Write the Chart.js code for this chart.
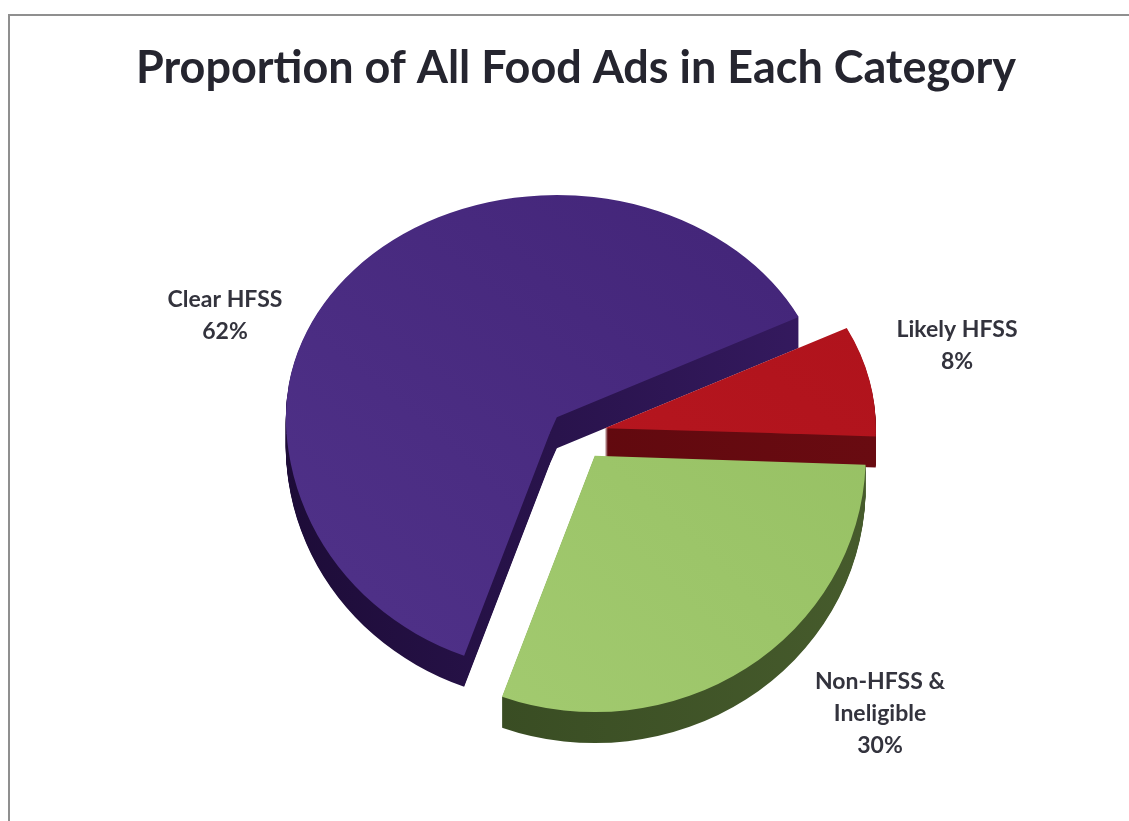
<!DOCTYPE html>
<html>
<head>
<meta charset="utf-8">
<title>Proportion of All Food Ads in Each Category</title>
<script src="https://cdn.jsdelivr.net/npm/chart.js@4.4.1/dist/chart.umd.min.js"></script>
<style>
    html, body { margin: 0; padding: 0; background: #fff; }
    #frame {
        position: absolute; left: 8px; top: 14px; width: 1121px; height: 807px;
        box-sizing: border-box; border-top: 2px solid #8f8f8f; border-left: 2px solid #8f8f8f;
    }
    #pie { position: absolute; left: 0; top: 0; }
</style>
</head>
<body>
<div id="frame"></div>
<canvas id="pie" width="1129" height="821"></canvas>
<script>
const chartTitle = 'Proportion of All Food Ads in Each Category';
const categories = [['Clear HFSS'], ['Likely HFSS'], ['Non-HFSS &', 'Ineligible']];
const shares = [62, 8, 30];

// [darker, lighter] shade pairs for the top faces and the extruded sides
const topColors = [['#44267a', '#4e3087'], ['#b0131c', '#ba1821'], ['#96c063', '#a2ca6f']];
const sideColors = [['#1d0c38', '#351a60'], ['#5a070c', '#690b11'], ['#33461f', '#465b2c']];

// Fake 3D: every slice is squashed vertically (less at the front than at the back),
// pushed out along its mid angle, and stacked `depth` times for the side walls.
const pie3d = {
    id: 'pie3d',
    beforeDatasetDraw(chart, args, opts) {
        const ctx = chart.ctx;
        const arcs = args.meta.data;
        const w = chart.width;
        const h = chart.height;

        const drawSlice = (arc, i, dz, fill) => {
            const mid = (arc.startAngle + arc.endAngle) / 2;
            const dx = Math.cos(mid) * opts.explode[i];
            const dy = Math.sin(mid) * opts.explode[i];
            const cy = arc.y;
            const halves = [[opts.tiltBack, -h, cy + 1], [opts.tiltFront, cy, h]];
            halves.forEach(([k, y0, y1]) => {
                ctx.save();
                ctx.translate(0, cy + dz);
                ctx.scale(1, k);
                ctx.translate(0, -cy);
                ctx.beginPath();
                ctx.rect(0, y0, w, y1 - y0);
                ctx.clip();
                ctx.translate(dx, dy);
                const saved = arc.options.backgroundColor;
                arc.options.backgroundColor = fill(arc);
                arc.draw(ctx);
                arc.options.backgroundColor = saved;
                ctx.restore();
            });
        };

        const topFill = (i) => (arc) => {
            const r = arc.outerRadius * 0.7;
            const g = ctx.createLinearGradient(arc.x + r, arc.y - r, arc.x - r, arc.y + r);
            g.addColorStop(0, topColors[i][0]);
            g.addColorStop(1, topColors[i][1]);
            return g;
        };
        const sideFill = (i) => (arc) => {
            const r = arc.outerRadius;
            const g = ctx.createLinearGradient(arc.x - r, 0, arc.x + r, 0);
            g.addColorStop(0, sideColors[i][0]);
            g.addColorStop(1, sideColors[i][1]);
            return g;
        };

        opts.order.forEach((i) => {
            const arc = arcs[i];
            for (let dz = opts.depth; dz > 0; dz--) {
                drawSlice(arc, i, dz, sideFill(i));
            }
            drawSlice(arc, i, 0, topFill(i));
        });
        return false;
    },
};

const captions = {
    id: 'captions',
    afterDraw(chart, args, opts) {
        const ctx = chart.ctx;
        const labels = chart.data.labels;
        const values = chart.data.datasets[0].data;
        const total = values.reduce((a, b) => a + b, 0);

        ctx.save();
        ctx.fillStyle = opts.color;
        ctx.textAlign = 'center';
        ctx.textBaseline = 'alphabetic';
        ctx.font = `bold ${opts.titleSize}px Lato`;
        ctx.fillText(chartTitle, opts.titleX, opts.titleY, opts.titleWidth);

        ctx.fillStyle = opts.labelColor;
        ctx.font = `bold ${opts.labelSize}px Lato`;
        labels.forEach((lines, i) => {
            const [x, y] = opts.anchors[i];
            const pct = Math.round(values[i] / total * 100) + '%';
            [...lines, pct].forEach((t, j) => ctx.fillText(t, x, y + j * opts.lineGap));
        });
        ctx.restore();
    },
};

new Chart(document.getElementById('pie'), {
    type: 'pie',
    data: {
        labels: categories,
        datasets: [
            {
                data: shares,
                backgroundColor: topColors.map((c) => c[1]),
                borderWidth: 0,
            },
        ],
    },
    options: {
        responsive: false,
        animation: false,
        events: [],
        rotation: 200,
        radius: 271,
        layout: { padding: { left: 60, right: 32, top: 100, bottom: 55 } },
        plugins: {
            legend: { display: false },
            tooltip: { enabled: false },
            title: { display: false },
            pie3d: {
                explode: [29, 27, 29],
                depth: 31,
                tiltBack: 0.82,
                tiltFront: 0.946,
                order: [0, 1, 2],
            },
            captions: {
                color: '#25252f',
                labelColor: '#33333d',
                titleSize: 45,
                titleX: 576,
                titleY: 83,
                titleWidth: 880,
                labelSize: 23,
                lineGap: 32,
                anchors: [[225, 307], [957, 337], [880, 689]],
            },
        },
    },
    plugins: [pie3d, captions],
});
</script>
</body>
</html>
